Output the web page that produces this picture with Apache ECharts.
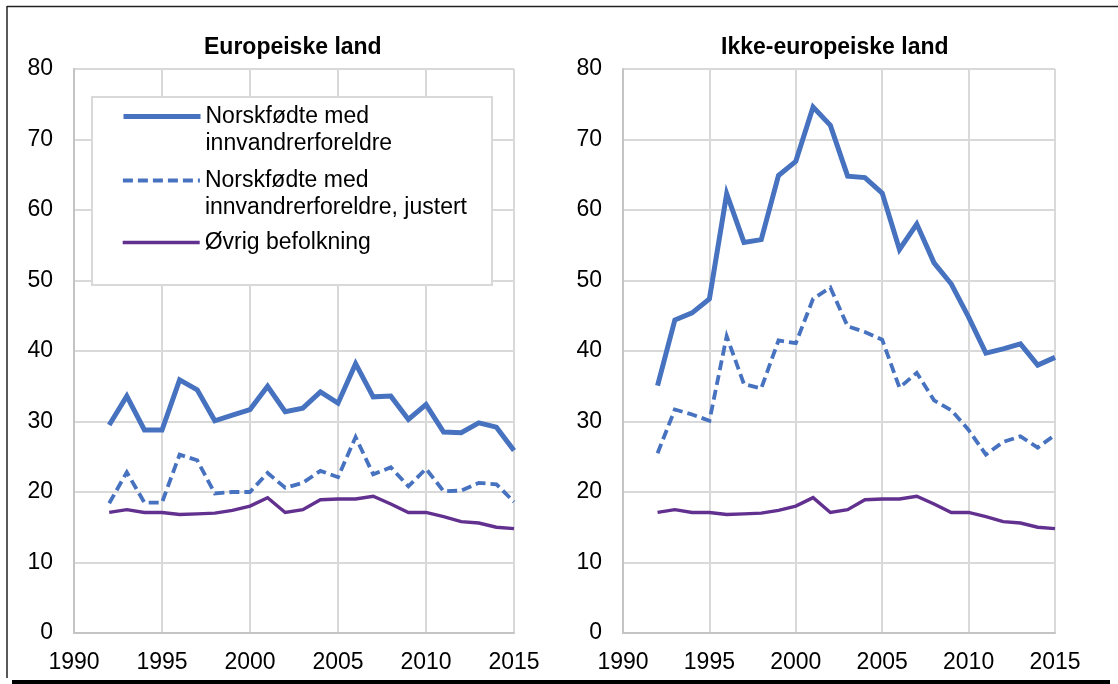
<!DOCTYPE html>
<html>
<head>
<meta charset="utf-8">
<script src="https://cdn.jsdelivr.net/npm/echarts@6/dist/echarts.min.js"></script>
<style>
  html, body { margin: 0; padding: 0; background: #fff; }
  #chart { width: 1118px; height: 684px; }
</style>
</head>
<body>
<div id="chart"></div>
<script>
// data (1992-2015)
const years = [1992, 1993, 1994, 1995, 1996, 1997, 1998, 1999, 2000, 2001, 2002, 2003,
               2004, 2005, 2006, 2007, 2008, 2009, 2010, 2011, 2012, 2013, 2014, 2015]

const euroNorskfodte = [29.5, 33.6, 28.8, 28.8, 35.9, 34.5, 30.1, 30.9, 31.7, 35.0, 31.4, 31.9,
                        34.2, 32.6, 38.2, 33.5, 33.6, 30.3, 32.4, 28.5, 28.4, 29.8, 29.2, 25.9]
const euroJustert = [18.4, 22.8, 18.5, 18.5, 25.3, 24.5, 19.8, 20.0, 20.0, 22.7, 20.6, 21.3,
                     23.0, 22.1, 27.8, 22.5, 23.5, 20.8, 23.3, 20.1, 20.2, 21.3, 21.1, 18.6]
const ikkeEuroNorskfodte = [35.1, 44.4, 45.4, 47.4, 62.3, 55.4, 55.8, 64.9, 66.9, 74.6, 72.0, 64.8,
                            64.6, 62.4, 54.4, 58.0, 52.5, 49.5, 44.8, 39.7, 40.3, 41.0, 38.0, 39.1]
const ikkeEuroJustert = [25.5, 31.7, 31.0, 30.1, 42.1, 35.3, 34.7, 41.5, 41.1, 47.4, 49.0, 43.5,
                         42.7, 41.6, 34.8, 36.9, 33.0, 31.6, 28.8, 25.3, 27.1, 27.9, 26.3, 28.1]
const ovrigBefolkning = [17.1, 17.5, 17.1, 17.1, 16.8, 16.9, 17.0, 17.4, 18.0, 19.2, 17.1, 17.5,
                         18.9, 19.0, 19.0, 19.4, 18.3, 17.1, 17.1, 16.5, 15.8, 15.6, 15.0, 14.8]

const panelTitles = ['Europeiske land', 'Ikke-europeiske land']
const seriesNames = ['Norskfødte med\ninnvandrerforeldre',
                     'Norskfødte med\ninnvandrerforeldre, justert',
                     'Øvrig befolkning']
const xTicks = { min: 1990, max: 2015, step: 5 }
const yTicks = { min: 0, max: 80, step: 10 }

const font = '"Liberation Sans", Arial, Helvetica, sans-serif'
const blue = '#4672BF'
const purple = '#62308F'

const pairs = vals => years.map((y, i) => [y, vals[i]])

const lineStyles = [
  { color: blue, width: 5, type: 'solid' },
  { color: blue, width: 3.8, type: [10, 5] },
  { color: purple, width: 3.4, type: 'solid' }
]

function makeSeries(valueSets, axisIdx) {
  return valueSets.map((vals, k) => ({
    name: seriesNames[k],
    type: 'line',
    xAxisIndex: axisIdx,
    yAxisIndex: axisIdx,
    data: pairs(vals),
    symbol: 'none',
    color: lineStyles[k].color,
    lineStyle: { ...lineStyles[k], cap: 'butt', join: 'miter' },
    z: 2 + (2 - k)
  }))
}

const xAxisCfg = idx => ({
  type: 'value', gridIndex: idx,
  min: xTicks.min, max: xTicks.max, interval: xTicks.step,
  axisLine: { show: true, lineStyle: { color: '#c4c4c4', width: 2 } },
  axisTick: { show: false },
  splitLine: { show: true, lineStyle: { color: '#d9d9d9', width: 2 } },
  axisLabel: { formatter: v => String(v), color: '#000', fontSize: 23, fontFamily: font, margin: 18 }
})
const yAxisCfg = idx => ({
  type: 'value', gridIndex: idx,
  min: yTicks.min, max: yTicks.max, interval: yTicks.step,
  axisLine: { show: true, lineStyle: { color: '#c4c4c4', width: 2 } },
  axisTick: { show: false },
  splitLine: { show: true, lineStyle: { color: '#d9d9d9', width: 2 } },
  axisLabel: { color: '#000', fontSize: 23, fontFamily: font, margin: 21 }
})

// two-line entries get an empty first line so the sample sits beside the first text line
const legendBase = {
  orient: 'vertical', left: 121, padding: 0,
  itemWidth: 77, itemHeight: 14, selectedMode: false,
  lineStyle: { width: 'inherit' },
  itemStyle: { opacity: 0 },
  textStyle: { color: '#000', fontSize: 23, lineHeight: 27, fontFamily: font }
}
const twoLine = name => '\n' + name

const chart = echarts.init(document.getElementById('chart'))
chart.setOption({
  animation: false,
  backgroundColor: '#fff',
  title: [
    { text: panelTitles[0], left: 199, top: 31, textStyle: { fontSize: 23, fontWeight: 'bold', color: '#000', fontFamily: font } },
    { text: panelTitles[1], left: 716, top: 31, textStyle: { fontSize: 23, fontWeight: 'bold', color: '#000', fontFamily: font } }
  ],
  legend: [
    { ...legendBase, top: 76, data: [seriesNames[0]], formatter: twoLine },
    { ...legendBase, top: 140, data: [seriesNames[1]], formatter: twoLine },
    { ...legendBase, top: 229, data: [seriesNames[2]] }
  ],
  grid: [
    { left: 74, right: 604, top: 69, bottom: 51 },
    { left: 623, right: 63, top: 69, bottom: 51 }
  ],
  xAxis: [xAxisCfg(0), xAxisCfg(1)],
  yAxis: [yAxisCfg(0), yAxisCfg(1)],
  series: [
    ...makeSeries([euroNorskfodte, euroJustert, ovrigBefolkning], 0),
    ...makeSeries([ikkeEuroNorskfodte, ikkeEuroJustert, ovrigBefolkning], 1)
  ],
  graphic: [
    // legend frame
    { type: 'rect', z: 3, shape: { x: 92, y: 97, width: 400, height: 188 },
      style: { fill: '#fff', stroke: '#d9d9d9', lineWidth: 2 } },
    // outer frame of the figure
    { type: 'line', z: 10, shape: { x1: 7, y1: 6.5, x2: 1118, y2: 6.5 }, style: { stroke: '#222', lineWidth: 1.5 } },
    { type: 'line', z: 10, shape: { x1: 7, y1: 6, x2: 7, y2: 678 }, style: { stroke: '#222', lineWidth: 1.5 } },
    { type: 'rect', z: 10, shape: { x: 12, y: 680, width: 1098, height: 4 }, style: { fill: '#000' } }
  ]
})
</script>
</body>
</html>
